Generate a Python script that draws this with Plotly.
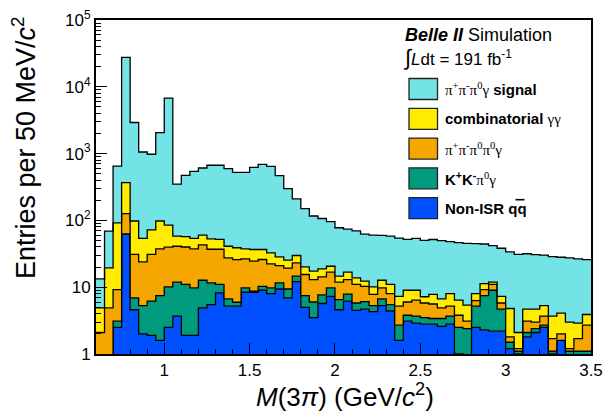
import numpy as np
import plotly.graph_objects as go

# ---------------- data (entries per 50 MeV bin, 0.60 - 3.50 GeV) ----------------
bin_lo = 0.6
bin_w = 0.05
n_bins = 58

non_isr_qq = [0, 0, 2.5, 63, 4.6, 2.0, 1.9, 1.6, 2.5, 3.7,
              1.9, 1.9, 4.9, 5.5, 8.2, 5.2, 5.2, 8.4, 8.4, 9.0,
              8.0, 9.4, 6.9, 12.1, 5.0, 3.5, 5.7, 7.3, 4.6, 6.2,
              4.5, 4.7, 4.3, 5.3, 4.4, 1.6, 3.1, 2.9, 2.8, 2.8,
              2.6, 2.8, 1.0, 0, 2.5, 2.3, 2.2, 2.2, 1.2, 1.0,
              1.8, 2.1, 2.5, 1.0, 1.6, 0, 0, 0]
kk_pi0_gamma = [0, 0, 0.6, 0, 2.3, 3.3, 4.3, 5.9, 7.6, 8.2,
                9.1, 7.9, 7.8, 6.1, 2.8, 1.5, 0.75, 1.4, 0.3, 1.3,
                1.8, 2.2, 2.5, 2.5, 2.5, 2.5, 2.0, 2.5, 1.9, 1.7,
                1.3, 1.4, 1.0, 1.4, 1.1, 1.1, 0.7, 0.8, 0.7, 0.6,
                0.8, 0.9, 1.5, 2.4, 2.7, 5.2, 6.8, 2.5, 0.3, 0.1,
                0.3, 0.3, 0.2, 0.1, 0, 1.1, 1.1, 1.1]
pipi_pi0pi0_gamma = [2.1, 4.9, 6.1, 63, 24.1, 18.7, 24.9, 30, 29.7, 29.1,
                     29, 27.7, 30.3, 25.4, 26, 20.8, 20, 16.8, 15.8, 15.7,
                     12.6, 9.5, 9.9, 8.5, 8.0, 7.0, 6.6, 7.0, 5.4, 5.1,
                     5.2, 4.2, 2.5, 3.1, 2.5, 2.5, 2.2, 2.7, 2.3, 2.2,
                     1.5, 1.5, 1.3, 0.7, 1.1, 1.7, 2.0, 1.1, 0.3, 0.1,
                     1.0, 0.6, 1.0, 0.6, 0.4, 0.1, 0.6, 1.6]
combinatorial_gg = [2.8, 14.6, 82.8, 241, 67, 30, 41, 60.5, 45.2, 17,
                    17, 16.5, 17, 16, 15, 13.5, 13, 10.9, 12.2, 10.7,
                    10.3, 7.4, 6.1, 6.7, 4.7, 4.4, 4.5, 3.8, 2.7, 3.8,
                    2.8, 2.0, 2.3, 2.9, 3.0, 2.1, 3.0, 2.6, 1.4, 2.2,
                    1.8, 2.8, 2.6, 2.3, 1.7, 2.1, 0.9, 1.5, 3.0, 0.9,
                    1.6, 1.7, 1.6, 2.0, 2.1, 1.8, 1.2, 1.2]
signal_3pi = [8.4, 49.5, 558, 27200, 2822, 1003, 905, 1968, 6685, 292,
              416, 489, 549, 616, 617, 555, 486, 487, 587, 653,
              612, 441, 273, 180, 130, 99, 88, 75, 63, 57,
              56, 50, 50, 47, 47, 47, 43, 45, 43, 44,
              43, 40, 40, 40, 37, 33, 30, 31, 29, 29,
              27, 26, 25, 25, 24, 24.5, 23.6, 22]

layer_names = ["Non-ISR qq", "K+K-pi0gamma", "pi+pi-pi0pi0gamma",
               "combinatorial gamma gamma", "pi+pi-pi0gamma signal"]
layer_values = [non_isr_qq, kk_pi0_gamma, pipi_pi0pi0_gamma, combinatorial_gg, signal_3pi]
layer_colors = ["#0050FF", "#009B7D", "#F5A700", "#FFEC00", "#74E3E6"]

x_ticks = [1, 1.5, 2, 2.5, 3, 3.5]
x_ticktext = ["1", "1.5", "2", "2.5", "3", "3.5"]
y_ticks = [1, 10, 100, 1000, 10000, 100000]
y_ticktext = ["1", "10", "10<sup>2</sup>", "10<sup>3</sup>", "10<sup>4</sup>", "10<sup>5</sup>"]

legend_labels = [
    '<span style="font-family:Liberation Serif">π<sup>+</sup>π<sup>-</sup>π<sup>0</sup>γ</span> <b>signal</b>',
    '<b>combinatorial</b> <span style="font-family:Liberation Serif">γγ</span>',
    '<span style="font-family:Liberation Serif">π<sup>+</sup>π<sup>-</sup>π<sup>0</sup>π<sup>0</sup>γ</span>',
    '<b>K<sup>+</sup>K<sup>-</sup></b><span style="font-family:Liberation Serif">π<sup>0</sup>γ</span>',
    '<b>Non-ISR qq</b>',
]
legend_colors = ["#74E3E6", "#FFEC00", "#F5A700", "#009B7D", "#0050FF"]

# ---------------- figure ----------------
W, H = 606, 415
ML, MR, MT, MB = 96, 15, 20, 61
PW, PH = W - ML - MR, H - MT - MB


def px(xp):
    return (xp - ML) / PW


def py(yp):
    return (H - MB - yp) / PH


edges = bin_lo + bin_w * np.arange(n_bins + 1)
fig = go.Figure()
fig.add_trace(go.Scatter(x=edges, y=np.full(n_bins + 1, 0.1), mode="lines",
                         line=dict(width=0), showlegend=False, hoverinfo="skip"))
cum = np.zeros(n_bins)
for name, vals, col in zip(layer_names, layer_values, layer_colors):
    cum = cum + np.asarray(vals, dtype=float)
    yv = np.maximum(cum, 0.1)
    yv = np.append(yv, yv[-1])
    fig.add_trace(go.Scatter(x=edges, y=yv, mode="lines", name=name,
                             line=dict(shape="hv", color="black", width=1.3),
                             fill="tonexty", fillcolor=col, showlegend=False))

axis_font = dict(family="Liberation Sans", size=17, color="black")
fig.update_xaxes(range=[0.6, 3.5], showgrid=False, zeroline=False, automargin=False,
                 showline=True, linecolor="black", linewidth=2, mirror=True,
                 ticks="inside", ticklen=11, tickwidth=1.3, tickcolor="black",
                 tickvals=x_ticks, ticktext=x_ticktext, tickfont=axis_font,
                 minor=dict(ticks="inside", ticklen=5, tickwidth=1.3, tickcolor="black",
                            tickmode="array",
                            tickvals=[round(0.7 + 0.1 * i, 2) for i in range(28)]))
fig.update_yaxes(type="log", range=[0, 5], showgrid=False, zeroline=False, automargin=False,
                 showline=True, linecolor="black", linewidth=2, mirror=True,
                 ticks="inside", ticklen=11, tickwidth=1.3, tickcolor="black",
                 tickvals=y_ticks, ticktext=y_ticktext, tickfont=axis_font,
                 minor=dict(ticks="inside", ticklen=5, tickwidth=1.3, tickcolor="black",
                            tickmode="array",
                            tickvals=[m * 10 ** d for d in range(5) for m in range(2, 10)]))

shapes = []
annotations = []
for i, (lab, col) in enumerate(zip(legend_labels, legend_colors)):
    yc = 89 + 29.8 * i
    shapes.append(dict(type="rect", xref="paper", yref="paper",
                       x0=px(409), x1=px(437.5), y0=py(yc - 10.5), y1=py(yc + 10.5),
                       fillcolor=col, line=dict(color="#222", width=1.3)))
    annotations.append(dict(xref="paper", yref="paper", x=px(443), y=py(yc),
                            xanchor="left", yanchor="middle", showarrow=False,
                            text=lab, font=dict(family="Liberation Sans", size=15, color="black")))
# bar over the last q of "Non-ISR qq"
yq = 89 + 29.8 * 4
shapes.append(dict(type="line", xref="paper", yref="paper",
                   x0=px(515.5), x1=px(524.5), y0=py(yq - 8.5), y1=py(yq - 8.5),
                   line=dict(color="black", width=1.6)))

annotations.append(dict(xref="paper", yref="paper", x=px(403), y=py(35),
                        xanchor="left", yanchor="middle", showarrow=False,
                        text="<b><i>Belle II</i></b> Simulation",
                        font=dict(family="Liberation Sans", size=18, color="black")))
annotations.append(dict(xref="paper", yref="paper", x=px(401), y=py(57),
                        xanchor="left", yanchor="middle", showarrow=False,
                        text='<span style="font-size:22px">∫</span><i>L</i>dt = 191 fb<sup>-1</sup>',
                        font=dict(family="Liberation Sans", size=17, color="black")))
annotations.append(dict(xref="paper", yref="paper", x=px(345), y=py(395),
                        xanchor="center", yanchor="middle", showarrow=False,
                        text='<i>M</i>(3<i>π</i>) (GeV/<i>c</i><sup>2</sup>)',
                        font=dict(family="Liberation Sans", size=26, color="black")))
annotations.append(dict(xref="paper", yref="paper", x=px(24), y=py(148),
                        xanchor="center", yanchor="middle", showarrow=False, textangle=-90,
                        text='Entries per 50 MeV/<i>c</i><sup>2</sup>',
                        font=dict(family="Liberation Sans", size=27, color="black")))

fig.update_layout(width=W, height=H, margin=dict(l=ML, r=MR, t=MT, b=MB, autoexpand=False),
                  paper_bgcolor="white", plot_bgcolor="white",
                  shapes=shapes, annotations=annotations, showlegend=False)

fig.write_html("out.html")
